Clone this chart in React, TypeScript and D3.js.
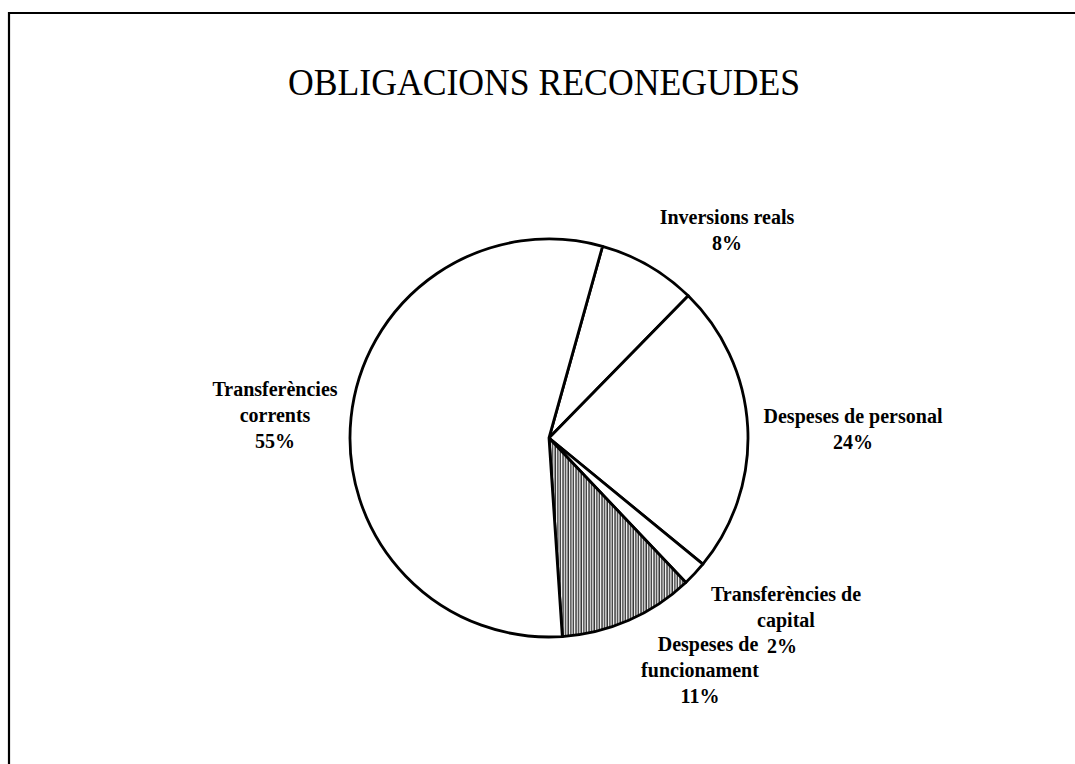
import { useEffect, useRef } from 'react';
import * as d3 from 'd3';

// chart data (share of total, %)
const categories = [
  'Inversions reals',
  'Despeses de personal',
  'Transferències de capital',
  'Despeses de funcionament',
  'Transferències corrents',
];
const values = [8.0, 23.6, 2.0, 11.0, 55.4];
// label lines as printed (percentage line is added below)
const labelLines = [
  ['Inversions reals'],
  ['Despeses de personal'],
  ['Transferències de', 'capital'],
  ['Despeses de', 'funcionament'],
  ['Transferències', 'corrents'],
];
const hatched = [false, false, false, true, false];
const title = 'OBLIGACIONS RECONEGUDES';

const App = () => {
  const svgRef = useRef<SVGSVGElement>(null);

  useEffect(() => {
    const width = 1075;
    const height = 764;
    const cx = 549;
    const cy = 438;
    const radius = 199;
    const font = '"Liberation Serif", "Times New Roman", serif';

    const svg = d3.select(svgRef.current)
      .attr('width', width)
      .attr('height', height);
    svg.selectAll('*').remove();

    svg.append('rect').attr('width', width).attr('height', height).attr('fill', '#fff');

    // vertical hatch for the shaded slice
    const defs = svg.append('defs');
    const pat = defs.append('pattern')
      .attr('id', 'vhatch')
      .attr('patternUnits', 'userSpaceOnUse')
      .attr('width', 2.6)
      .attr('height', 3);
    pat.append('rect').attr('width', 2.6).attr('height', 3).attr('fill', '#fff');
    pat.append('line')
      .attr('x1', 1).attr('x2', 1).attr('y1', 0).attr('y2', 3)
      .attr('stroke', '#222').attr('stroke-width', 1.3);

    // frame (top + left edge of the scanned page)
    svg.append('path')
      .attr('d', `M9,${height} V13 H${width}`)
      .attr('fill', 'none')
      .attr('stroke', '#000')
      .attr('stroke-width', 2.2);

    // title
    svg.append('text')
      .attr('x', 544)
      .attr('y', 95)
      .attr('text-anchor', 'middle')
      .attr('font-family', font)
      .attr('font-size', 37)
      .attr('textLength', 512)
      .attr('lengthAdjust', 'spacingAndGlyphs')
      .text(title);

    // pie
    const startAngle = (15.6 * Math.PI) / 180;
    const pie = d3.pie<number>()
      .sort(null)
      .startAngle(startAngle)
      .endAngle(startAngle + 2 * Math.PI);
    const arcs = pie(values);
    const arc = d3.arc<d3.PieArcDatum<number>>().innerRadius(0).outerRadius(radius);

    const g = svg.append('g').attr('transform', `translate(${cx},${cy})`);
    g.selectAll('path.slice')
      .data(arcs)
      .enter()
      .append('path')
      .attr('class', 'slice')
      .attr('d', arc)
      .attr('fill', (d, i) => (hatched[i] ? 'url(#vhatch)' : '#fff'))
      .attr('stroke', '#000')
      .attr('stroke-width', 2.8)
      .attr('stroke-linejoin', 'round');

    // label anchors (centre of first baseline) relative to pie centre
    const labelPos = [
      [178, -214],
      [304, -15],
      [237, 163],
      [151, 213],
      [-274, -42],
    ];
    const pct = d3.format('.0f');
    const lineH = 26;

    arcs.forEach((a, i) => {
      const [lx, ly] = labelPos[i];
      const t = g.append('text')
        .attr('font-family', font)
        .attr('font-weight', 'bold')
        .attr('font-size', 20)
        .attr('text-anchor', 'middle')
        .attr('fill', '#000')
        .attr('aria-label', categories[i]);
      const lines = [...labelLines[i], `${pct(values[i])}%`];
      lines.forEach((ln, k) => {
        let dx = 0;
        if (i === 3 && k === 0) dx = 8;
        if (i === 2 && k === lines.length - 1) dx = -4;
        t.append('tspan')
          .attr('x', lx + dx)
          .attr('y', ly + k * lineH)
          .text(ln);
      });
    });
  }, []);

  return (
    <svg
      ref={svgRef}
      style={{ position: 'absolute', left: 0, top: 0, display: 'block' }}
    />
  );
};

export default App;
